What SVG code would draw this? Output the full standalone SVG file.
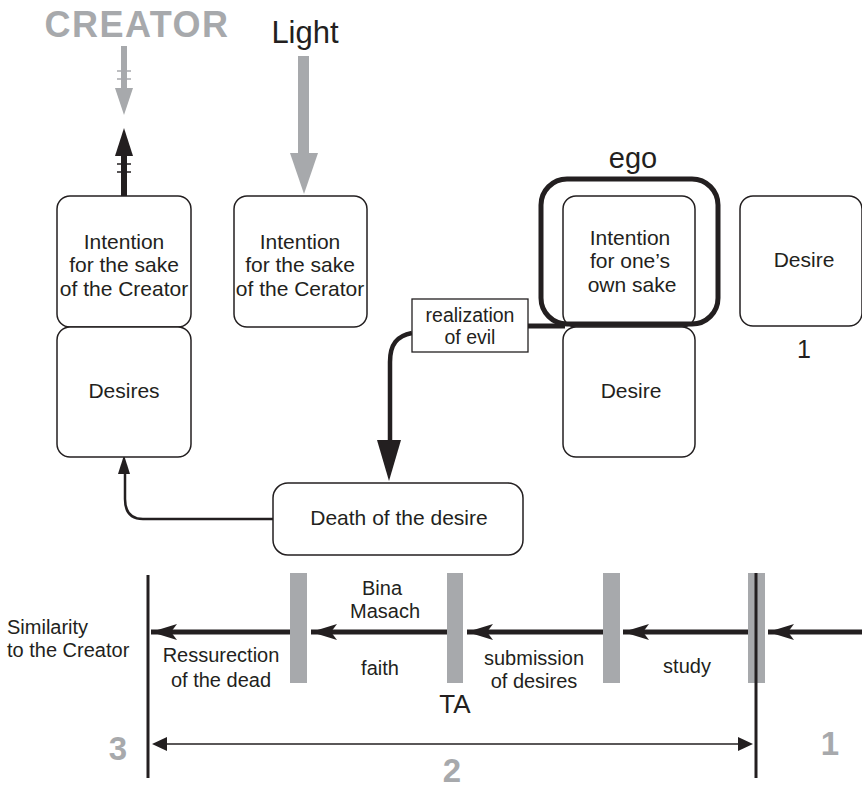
<svg xmlns="http://www.w3.org/2000/svg" width="862" height="788" viewBox="0 0 862 788">
<style>
text{font-family:"Liberation Sans",Arial,sans-serif;fill:#231f20;text-anchor:middle}
.t{font-size:21px}
.s{font-size:20px}
.g{fill:#a7a9ac;font-weight:bold}
.box{fill:#fff;stroke:#231f20;stroke-width:1.5}
.bar{fill:#a7a9ac}
.k{stroke:#231f20;fill:none}
</style>
<defs>
<marker id="ah" viewBox="0 0 26 16" refX="26" refY="8" markerWidth="26" markerHeight="16" markerUnits="userSpaceOnUse" orient="auto">
<path d="M0,0 L26,8 L0,16 L6,8 Z" fill="#231f20"/>
</marker>
</defs>

<text x="137" y="37" class="g" font-size="36" letter-spacing="1.5">CREATOR</text>
<text x="305" y="43" font-size="31">Light</text>
<text x="633" y="168" font-size="29">ego</text>

<g id="connectors">
<!-- gray arrow from CREATOR -->
<rect x="121" y="46" width="6" height="44" class="bar"/>
<path d="M115,88 L133,88 L124,115 Z" class="bar"/>
<line x1="117" y1="71" x2="131" y2="71" stroke="#a7a9ac" stroke-width="1.5"/>
<line x1="117" y1="79" x2="131" y2="79" stroke="#a7a9ac" stroke-width="1.5"/>
<!-- black arrow up -->
<rect x="121" y="152" width="6" height="44" fill="#231f20"/>
<path d="M115,156 L133,156 L124,128 Z" fill="#231f20"/>
<line x1="117" y1="164" x2="131" y2="164" stroke="#231f20" stroke-width="1.5"/>
<line x1="117" y1="172" x2="131" y2="172" stroke="#231f20" stroke-width="1.5"/>
<!-- light arrow -->
<rect x="298" y="56" width="11" height="100" class="bar"/>
<path d="M290,153 L318,153 L304,194 Z" class="bar"/>
<!-- realization link to ego -->
<line x1="528" y1="326" x2="565" y2="326" class="k" stroke-width="5"/>
<!-- realization to death -->
<path d="M412,333 C397,336 390,344 390,362 L390,445" class="k" stroke-width="4.5"/>
<path d="M377,440 L401,440 L389,481 Z" fill="#231f20"/>
<!-- death to desires -->
<path d="M273,519 L143,519 Q125,519 125,499 L125,472" class="k" stroke-width="2.5"/>
<path d="M118,474 L130,474 L124,455 Z" fill="#231f20"/>
<!-- bottom timeline -->
<line x1="148" y1="575" x2="148" y2="778" class="k" stroke-width="3"/>
<line x1="290" y1="632" x2="151" y2="632" class="k" stroke-width="5" marker-end="url(#ah)"/>
<line x1="447" y1="632" x2="311" y2="632" class="k" stroke-width="5" marker-end="url(#ah)"/>
<line x1="603" y1="632" x2="467" y2="632" class="k" stroke-width="5" marker-end="url(#ah)"/>
<line x1="748" y1="632" x2="623" y2="632" class="k" stroke-width="5" marker-end="url(#ah)"/>
<line x1="862" y1="632" x2="768" y2="632" class="k" stroke-width="5" marker-end="url(#ah)"/>
<line x1="165" y1="744" x2="740" y2="744" class="k" stroke-width="1.5"/>
<path d="M152,744 L167,737 L167,751 Z" fill="#231f20"/>
<path d="M753,744 L738,737 L738,751 Z" fill="#231f20"/>
</g>

<g id="n-intention-creator">
<rect x="57" y="196" width="134" height="131" rx="13" class="box"/>
<text class="t" x="124" y="249">Intention</text>
<text class="t" x="124" y="272">for the sake</text>
<text class="t" x="124" y="296">of the Creator</text>
</g>
<g id="n-desires">
<rect x="57" y="327" width="134" height="130" rx="13" class="box"/>
<text class="t" x="124" y="398">Desires</text>
</g>
<g id="n-intention-cerator">
<rect x="234" y="196" width="133" height="131" rx="13" class="box"/>
<text class="t" x="300" y="249">Intention</text>
<text class="t" x="300" y="272">for the sake</text>
<text class="t" x="300" y="296">of the Cerator</text>
</g>
<g id="n-intention-own">
<rect x="563" y="196" width="132" height="131" rx="13" class="box"/>
<text class="t" x="630" y="245">Intention</text>
<text class="t" x="630" y="268">for one’s</text>
<text class="t" x="632" y="292">own sake</text>
</g>
<g id="n-ego">
<rect x="541" y="179" width="177" height="145" rx="26" fill="none" stroke="#231f20" stroke-width="5"/>
</g>
<g id="n-desire-mid">
<rect x="563" y="327" width="132" height="130" rx="13" class="box"/>
<text class="t" x="631" y="398">Desire</text>
</g>
<g id="n-desire-right">
<rect x="740" y="196" width="122" height="130" rx="13" class="box"/>
<text class="t" x="804" y="267">Desire</text>
<text x="804" y="358" font-size="25">1</text>
</g>
<g id="n-realization">
<rect x="412" y="299" width="116" height="53" fill="#fff" stroke="#231f20" stroke-width="1.3"/>
<text x="470" y="322" font-size="19.5">realization</text>
<text x="470" y="344" font-size="19.5">of evil</text>
</g>
<g id="n-death">
<rect x="273" y="483" width="250" height="72" rx="15" class="box"/>
<text class="t" x="399" y="525">Death of the desire</text>
</g>

<g id="timeline">
<rect x="290" y="573" width="17" height="110" class="bar"/>
<rect x="447" y="573" width="16" height="110" class="bar"/>
<rect x="603" y="573" width="17" height="110" class="bar"/>
<rect x="748" y="573" width="17" height="110" class="bar"/>
<line x1="756" y1="573" x2="756" y2="778" class="k" stroke-width="3"/>
<text class="s" x="7" y="634" style="text-anchor:start">Similarity</text>
<text class="s" x="7" y="657" style="text-anchor:start">to the Creator</text>
<text class="s" x="221" y="662">Ressurection</text>
<text class="s" x="221" y="687">of the dead</text>
<text class="s" x="382" y="595">Bina</text>
<text class="s" x="385" y="618">Masach</text>
<text class="s" x="380" y="675">faith</text>
<text x="455" y="713" font-size="26">TA</text>
<text class="s" x="534" y="665">submission</text>
<text class="s" x="534" y="688">of desires</text>
<text class="s" x="687" y="673">study</text>
<text class="g" x="118" y="760" font-size="33">3</text>
<text class="g" x="452" y="782" font-size="33">2</text>
<text class="g" x="830" y="755" font-size="33">1</text>
</g>
</svg>
